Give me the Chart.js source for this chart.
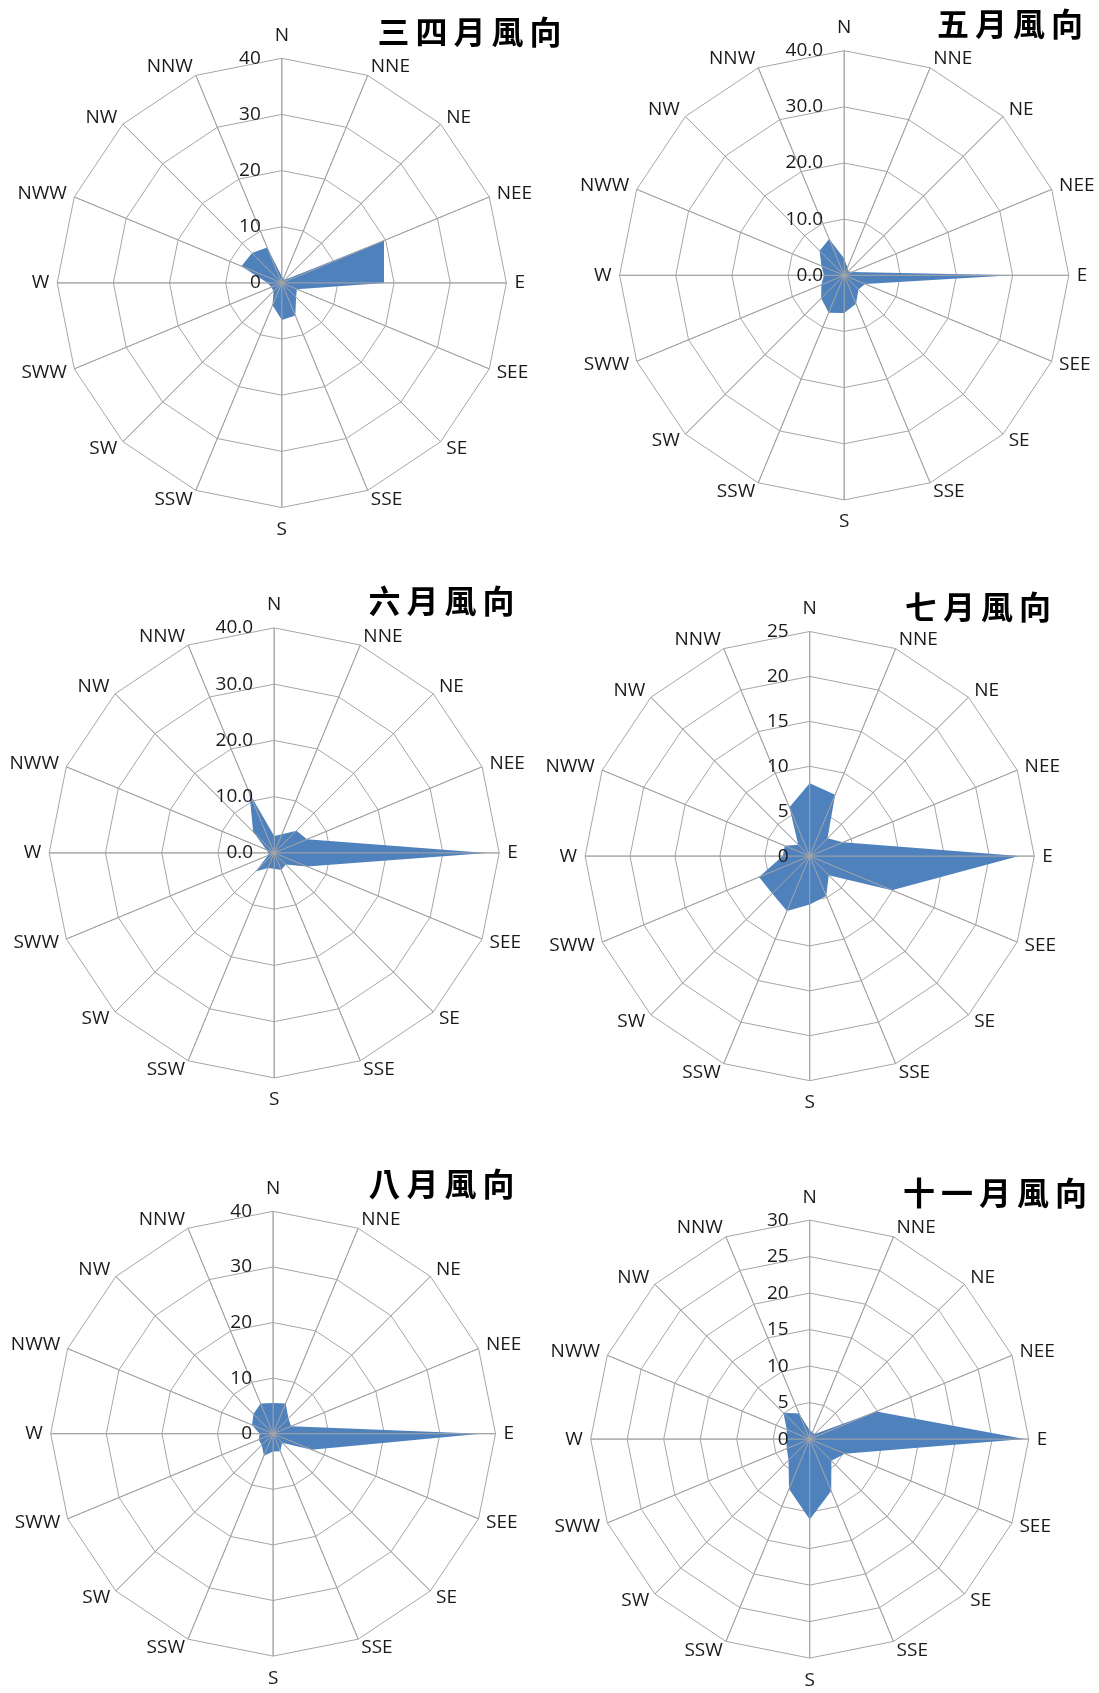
<!DOCTYPE html>
<html>
<head>
<meta charset="utf-8">
<script src="https://cdn.jsdelivr.net/npm/chart.js@4.4.1/dist/chart.umd.min.js"></script>
<style>
  html, body { margin: 0; padding: 0; background: #ffffff; }
  body { width: 1099px; height: 1693px; position: relative; overflow: hidden; }
  canvas { position: absolute; }
  .title {
    position: absolute;
    font-family: "Noto Sans CJK TC", "Noto Sans CJK SC", sans-serif;
    font-weight: 700;
    font-size: 32px;
    letter-spacing: 6px;
    line-height: 1;
    color: #000;
    white-space: nowrap;
    transform: translate(-50%, -50%);
  }
</style>
</head>
<body>
<script>
// ---------------- DATA ----------------
const directions = ['N','NNE','NE','NEE','E','SEE','SE','SSE','S','SSW','SW','SWW','W','NWW','NW','NNW'];

const titles = ['三四月風向', '五月風向', '六月風向', '七月風向', '八月風向', '十一月風向'];

const marAprValues = [1.2, 0.8, 0.8, 19.7, 18.2, 2.9, 3.6, 6.3, 6.6, 4.3, 2.1, 2.0, 2.5, 7.8, 7.5, 6.8];
const mayValues    = [3.0, 1.5, 1.0, 1.5, 30.0, 4.0, 3.6, 5.5, 6.7, 7.2, 5.8, 4.4, 3.6, 4.4, 6.2, 7.0];
const juneValues   = [3.0, 3.6, 5.6, 6.3, 37.8, 6.3, 2.9, 3.3, 2.8, 2.9, 4.7, 1.2, 1.0, 1.5, 5.3, 11.5];
const julyValues   = [8.1, 7.4, 2.8, 4.0, 23.3, 9.9, 3.0, 4.8, 5.4, 6.6, 5.9, 6.1, 3.0, 3.0, 1.8, 5.9];
const augValues    = [5.5, 5.9, 3.9, 3.5, 37.3, 7.5, 2.3, 3.4, 3.2, 4.3, 2.9, 2.8, 2.4, 4.1, 5.0, 5.9];
const novValues    = [1.2, 1.0, 1.0, 9.9, 29.4, 5.2, 4.2, 7.7, 11.0, 7.4, 4.1, 3.4, 3.2, 3.4, 5.1, 3.8];

const ticks40 = [0, 10, 20, 30, 40];
const ticks25 = [0, 5, 10, 15, 20, 25];
const ticks30 = [0, 5, 10, 15, 20, 25, 30];
const tickDecimals = [0, 1, 1, 0, 0, 0];

// ---------------- LAYOUT / STYLE ----------------
const BLUE = '#4F81BD';
const GRID = '#a6a6a6';
const TEXT = '#1a1a1a';
const LABEL_FONT = '19px "Open Sans"';
const TICK_FONT = '19px "Open Sans"';

const panels = [
  { values: marAprValues, ticks: ticks40, left: 0,   top: 0,    w: 549, h: 560, cx: 281.8, cy: 282.9, R: 224.6, tx: 469.6, ty: 29.7 },
  { values: mayValues,    ticks: ticks40, left: 520, top: 0,    w: 579, h: 560, cx: 324.2, cy: 275.3, R: 224.6, tx: 1010,  ty: 21.6 },
  { values: juneValues,   ticks: ticks40, left: 0,   top: 560,  w: 549, h: 565, cx: 274.2, cy: 292.9, R: 225.0, tx: 441.6, ty: 599.2 },
  { values: julyValues,   ticks: ticks25, left: 520, top: 560,  w: 579, h: 565, cx: 289.7, cy: 296.1, R: 224.6, tx: 978,   ty: 604.6 },
  { values: augValues,    ticks: ticks40, left: 0,   top: 1125, w: 549, h: 568, cx: 273.1, cy: 308.7, R: 222.4, tx: 441.6, ty: 1182 },
  { values: novValues,    ticks: ticks30, left: 520, top: 1125, w: 579, h: 568, cx: 289.7, cy: 314.1, R: 219.0, tx: 994.9, ty: 1190.8 }
];

// Plugin: fixes centre/radius of the radial scale, draws spokes over the fill,
// and draws point labels + tick labels in the Excel-like positions.
const excelRadar = {
  id: 'excelRadar',
  beforeLayout(chart, args, opts) {
    const s = chart.scales.r;
    s.setCenterPoint = function () {
      this.xCenter = opts.cx;
      this.yCenter = opts.cy;
      this.drawingArea = opts.R;
    };
  },
  afterDatasetsDraw(chart, args, opts) {
    const s = chart.scales.r;
    const ctx = chart.ctx;
    const n = chart.data.labels.length;
    ctx.save();
    // spokes on top of the filled area
    ctx.strokeStyle = GRID;
    ctx.lineWidth = 1;
    for (let i = 0; i < n; i++) {
      const p = s.getPointPosition(i, s.drawingArea);
      ctx.beginPath();
      ctx.moveTo(s.xCenter, s.yCenter);
      ctx.lineTo(p.x, p.y);
      ctx.stroke();
    }
    // point labels
    ctx.fillStyle = TEXT;
    ctx.font = LABEL_FONT;
    ctx.textBaseline = 'middle';
    for (let i = 0; i < n; i++) {
      const p = s.getPointPosition(i, s.drawingArea);
      const theta = i * 2 * Math.PI / n;
      const sn = Math.sin(theta), cs = Math.cos(theta);
      let x = p.x, y = p.y;
      if (i === 0) { ctx.textAlign = 'center'; y = p.y - 23; }
      else if (i === n / 2) { ctx.textAlign = 'center'; y = p.y + 22; }
      else {
        ctx.textAlign = sn > 0 ? 'left' : 'right';
        x = p.x + 8 * sn;
        y = p.y - 9.5 * cs;
      }
      ctx.fillText(chart.data.labels[i], x, y);
    }
    // tick labels
    ctx.font = TICK_FONT;
    ctx.textAlign = 'right';
    ctx.textBaseline = 'middle';
    opts.tickValues.forEach(v => {
      const d = s.getDistanceFromCenterForValue(v);
      ctx.fillText(v.toFixed(opts.decimals), s.xCenter - 21, s.yCenter - d);
    });
    ctx.restore();
  }
};

panels.forEach((pn, idx) => {
  const c = document.createElement('canvas');
  c.width = pn.w; c.height = pn.h;
  c.style.left = pn.left + 'px'; c.style.top = pn.top + 'px';
  c.style.width = pn.w + 'px'; c.style.height = pn.h + 'px';
  document.body.appendChild(c);

  const t = document.createElement('div');
  t.className = 'title';
  t.textContent = titles[idx];
  t.style.left = (pn.tx + 3) + 'px';
  t.style.top = pn.ty + 'px';
  document.body.appendChild(t);

  const tks = pn.ticks;
  new Chart(c, {
    type: 'radar',
    data: {
      labels: directions,
      datasets: [{
        data: pn.values,
        backgroundColor: BLUE,
        borderColor: 'rgba(0,0,0,0)',
        borderWidth: 0,
        pointRadius: 0,
        pointHoverRadius: 0,
        fill: true,
        tension: 0
      }]
    },
    options: {
      responsive: false,
      maintainAspectRatio: false,
      animation: false,
      devicePixelRatio: 1,
      events: [],
      plugins: {
        legend: { display: false },
        tooltip: { enabled: false },
        excelRadar: { cx: pn.cx, cy: pn.cy, R: pn.R, tickValues: tks, decimals: tickDecimals[idx] }
      },
      scales: {
        r: {
          min: tks[0],
          max: tks[tks.length - 1],
          ticks: { display: false, stepSize: tks[1] - tks[0] },
          pointLabels: { display: false },
          grid: { color: GRID, lineWidth: 1, circular: false },
          angleLines: { color: GRID, lineWidth: 1 }
        }
      }
    },
    plugins: [excelRadar]
  });
});
</script>
</body>
</html>
